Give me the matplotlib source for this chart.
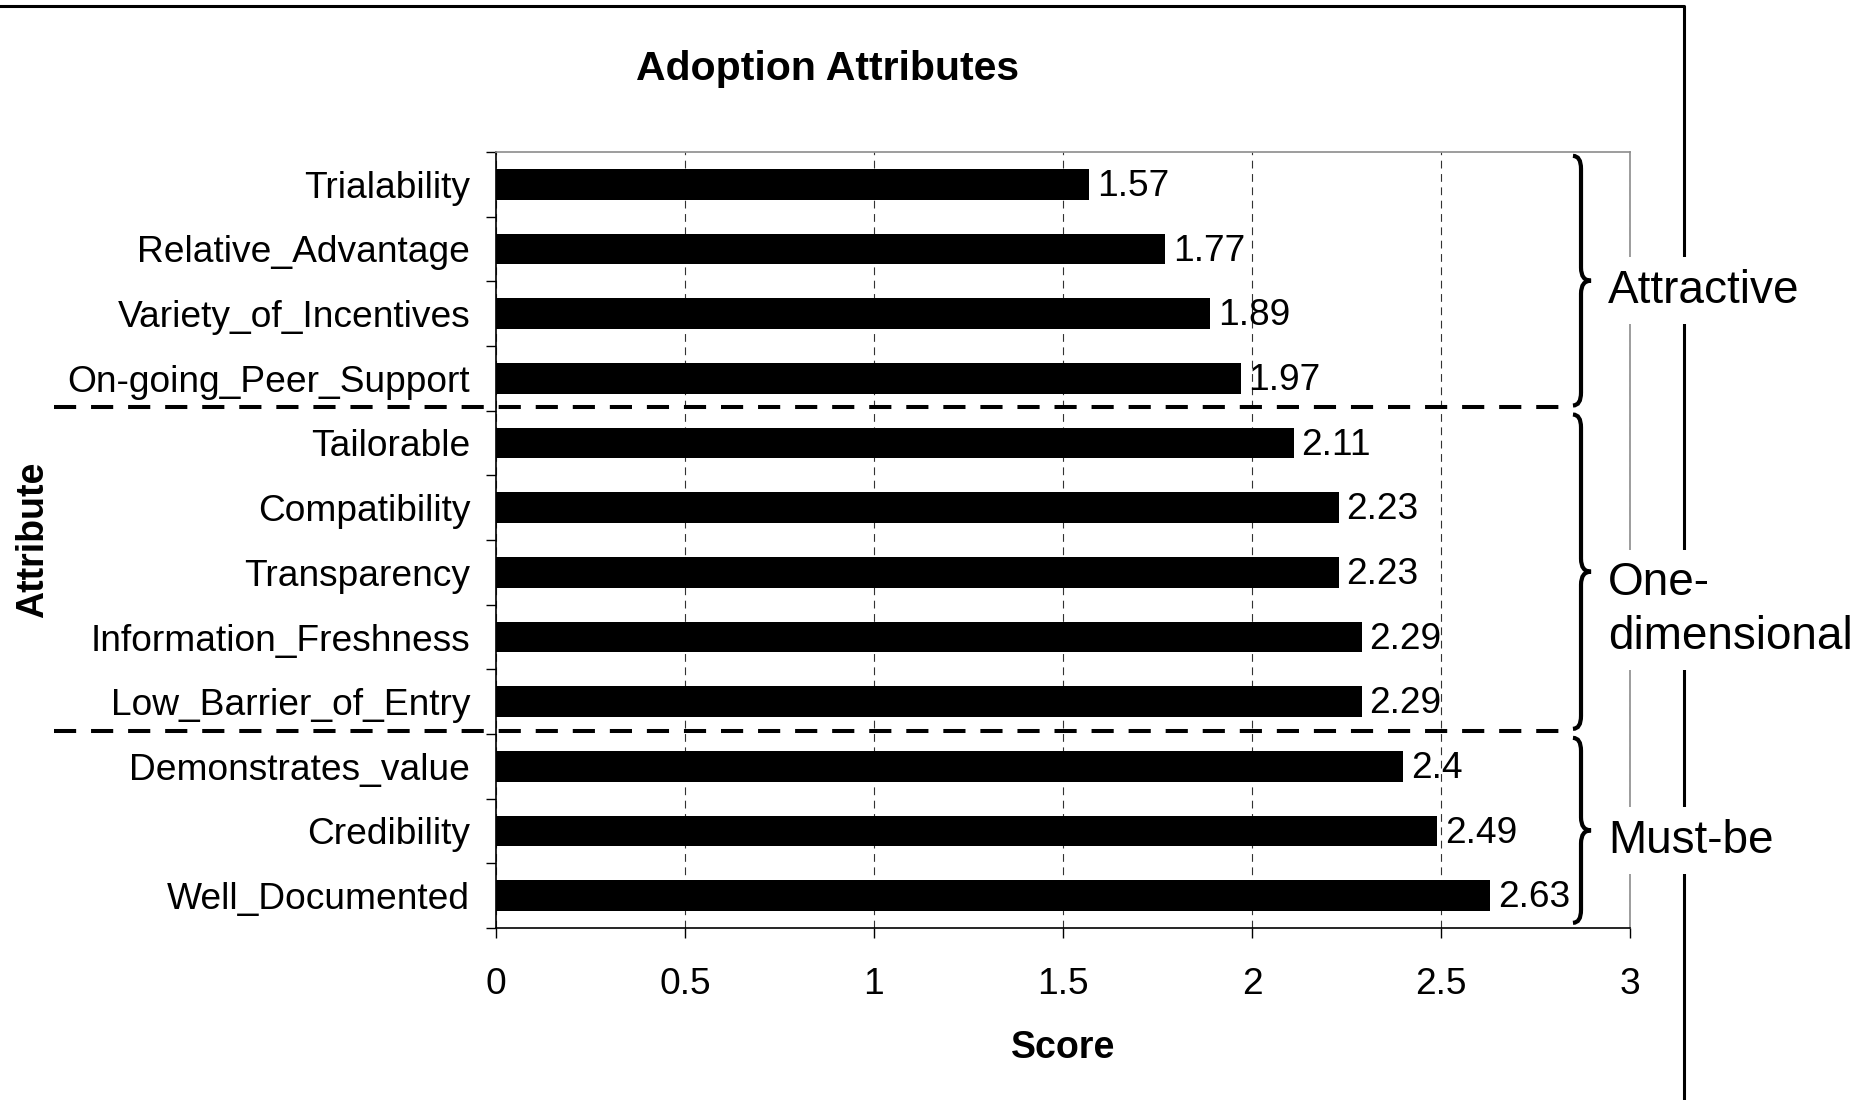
import matplotlib
matplotlib.use("Agg")
import matplotlib.pyplot as plt
import matplotlib.transforms as mtransforms
from matplotlib.path import Path
from matplotlib.patches import PathPatch
from matplotlib.lines import Line2D

# data (top to bottom)
attributes = ["Trialability", "Relative_Advantage", "Variety_of_Incentives",
              "On-going_Peer_Support", "Tailorable", "Compatibility",
              "Transparency", "Information_Freshness", "Low_Barrier_of_Entry",
              "Demonstrates_value", "Credibility", "Well_Documented"]
scores = [1.57, 1.77, 1.89, 1.97, 2.11, 2.23, 2.23, 2.29, 2.29, 2.4, 2.49, 2.63]
groups = ["Attractive", "One-\ndimensional", "Must-be"]
group_sizes = [4, 5, 3]
xticks = [0, 0.5, 1, 1.5, 2, 2.5, 3]
xtick_labels = ["0", "0.5", "1", "1.5", "2", "2.5", "3"]

plt.rcParams['font.family'] = ['Liberation Sans', 'DejaVu Sans']

W, H = 1866, 1100
fig = plt.figure(figsize=(W / 100, H / 100), dpi=100)
ax = fig.add_axes([496 / W, 1 - 928 / H, 1134 / W, 776 / H])

ypos = list(range(len(attributes)))
ax.barh(ypos, scores, height=0.47, color='black', zorder=2)
ax.set_xlim(0, 3)
ax.set_ylim(len(attributes) - 0.5, -0.5)

# category ticks sit between bars, labels at bar centres
ax.set_yticks([i - 0.5 for i in range(len(attributes) + 1)])
ax.set_yticklabels([])
ax.set_yticks(ypos, minor=True)
ax.set_yticklabels(attributes, minor=True, fontsize=26.7)
ax.tick_params(axis='y', which='major', direction='out', length=7, width=1)
ax.tick_params(axis='y', which='minor', length=0, pad=18.5)
ax.set_xticks(xticks)
ax.set_xticklabels(xtick_labels, fontsize=26.7)
ax.tick_params(axis='x', direction='out', length=7, width=1, pad=21)

ax.grid(axis='x', linestyle=(0, (7, 5)), color='#333333', linewidth=0.8)
ax.set_axisbelow(True)

for side in ['top', 'right']:
    ax.spines[side].set_color('#8c8c8c')
    ax.spines[side].set_linewidth(1.2)
for side in ['left', 'bottom']:
    ax.spines[side].set_color('black')
    ax.spines[side].set_linewidth(1.2)

# value labels
for yi, v in zip(ypos, scores):
    ax.annotate(f"{v:g}", xy=(v, yi), xytext=(5.5, -1.5), textcoords='offset points',
                va='center', ha='left', fontsize=26.7)

ax.set_xlabel('Score', fontsize=27, fontweight='bold', va='center')
ax.xaxis.set_label_coords(0.5, -0.154)
ax.set_ylabel('Attribute', fontsize=27, fontweight='bold', va='center', ha='center')
ax.yaxis.set_label_coords(-0.408, 0.5)

fig.text(827 / W, 1 - 69 / H, 'Adoption Attributes', ha='center', va='center',
         fontsize=29.5, fontweight='bold')

# group separators, braces and labels
trans = mtransforms.blended_transform_factory(ax.transAxes, ax.transData)
bounds = [-0.5]
for s in group_sizes:
    bounds.append(bounds[-1] + s)

for b in bounds[1:-1]:
    ax.plot([-0.39, 0.948], [b - 0.05, b - 0.05], transform=trans, color='black',
            lw=2.9, linestyle=(0, (5.5, 3.7)), clip_on=False, zorder=4)

xa, xm, xb = 0.9497, 0.9568, 0.9656
r = 0.2
line_step = 39.6  # points between label lines
for i, label in enumerate(groups):
    y0 = bounds[i] + 0.06
    y1 = bounds[i + 1] - 0.08
    ym = (y0 + y1) / 2
    verts = [(xa, y0), (xm, y0), (xm, y0 + r),
             (xm, ym - r), (xm, ym), (xb, ym),
             (xm, ym), (xm, ym + r),
             (xm, y1 - r), (xm, y1), (xa, y1)]
    codes = [Path.MOVETO, Path.CURVE3, Path.CURVE3,
             Path.LINETO, Path.CURVE3, Path.CURVE3,
             Path.CURVE3, Path.CURVE3,
             Path.LINETO, Path.CURVE3, Path.CURVE3]
    ax.add_patch(PathPatch(Path(verts, codes), facecolor='none', edgecolor='black',
                           lw=3, transform=trans, clip_on=False, zorder=4))
    # first line of each label sits level with the brace tip
    extra = label.count('\n') * line_step
    ax.annotate(label, xy=(0.9806, ym), xycoords=trans, xytext=(0, -16 - extra),
                textcoords='offset points', va='baseline', ha='left', fontsize=33,
                linespacing=1.28, annotation_clip=False, zorder=5,
                bbox=dict(boxstyle='square,pad=0.25', fc='white', ec='none'))

# outer frame (top and right edges visible)
fig.add_artist(Line2D([0, 1684 / W, 1684 / W], [1 - 6 / H, 1 - 6 / H, 0],
                      transform=fig.transFigure, color='black', lw=2.2, zorder=-1))

fig.savefig('out.png', dpi=100)
